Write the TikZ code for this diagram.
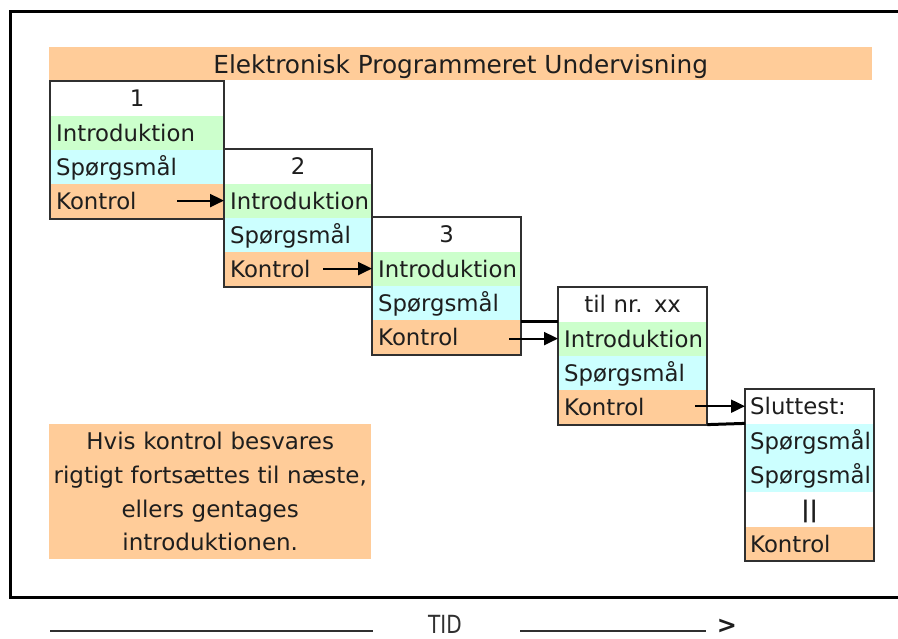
\documentclass[tikz,border=0pt]{standalone}
\usepackage{fontspec}
\setmainfont{DejaVu Sans}
\usetikzlibrary{arrows.meta}
\hyphenpenalty=10000
\exhyphenpenalty=10000
\definecolor{peach}{HTML}{FFCC99}
\definecolor{mint}{HTML}{CCFFCC}
\definecolor{sky}{HTML}{CCFFFF}
\definecolor{ink}{HTML}{1E1E1E}
\definecolor{edge}{HTML}{303030}
\begin{document}
\begin{tikzpicture}[x=1pt,y=-1pt,
  txt/.style={font=\fontsize{22.8}{26}\selectfont, text=ink},
  row/.style={txt, anchor=north west, inner xsep=6pt, inner ysep=0pt,
    minimum height=34pt, text height=19pt, text depth=2pt, align=left},
  head/.style={row, fill=white, align=center},
  intro/.style={row, fill=mint},
  ask/.style={row, fill=sky},
  check/.style={row, fill=peach},
  boxedge/.style={draw=edge, line width=2pt},
  link/.style={line width=3pt, black},
  arr/.style={line width=2pt, black, -{Triangle[length=14pt,width=13pt]}},
  timeline/.style={line width=2.2pt, edge}]
\useasboundingbox (0,0) rectangle (898,639);

% outer frame (open to the right)
\draw[line width=3pt] (898,12) -- (10,12) -- (10,597) -- (898,597);

% title bar
\node[txt, font=\fontsize{24.8}{28}\selectfont, fill=peach, anchor=north west,
  inner sep=0pt, minimum width=823pt, minimum height=33pt,
  text height=21pt, text depth=2pt] (title) at (49,47)
  {Elektronisk Programmeret Undervisning};

% module 1
\node[head,  text width=162pt] (b1t) at (50,81) {1};
\node[intro, text width=162pt] (b1i) at (b1t.south west) {Introduktion};
\node[ask,   text width=162pt] (b1s) at (b1i.south west) {Spørgsmål};
\node[check, text width=162pt] (b1k) at (b1s.south west) {Kontrol};
\draw[boxedge] (b1t.north west) rectangle (b1k.south east);

% module 2
\node[head,  text width=136pt] (b2t) at (224,149) {2};
\node[intro, text width=136pt] (b2i) at (b2t.south west) {Introduktion};
\node[ask,   text width=136pt] (b2s) at (b2i.south west) {Spørgsmål};
\node[check, text width=136pt] (b2k) at (b2s.south west) {Kontrol};
\draw[boxedge] (b2t.north west) rectangle (b2k.south east);

% module 3
\node[head,  text width=137pt] (b3t) at (372,217) {3};
\node[intro, text width=137pt] (b3i) at (b3t.south west) {Introduktion};
\node[ask,   text width=137pt] (b3s) at (b3i.south west) {Spørgsmål};
\node[check, text width=137pt] (b3k) at (b3s.south west) {Kontrol};
\draw[boxedge] (b3t.north west) rectangle (b3k.south east);

% module xx
\node[head,  text width=137pt] (b4t) at (558,287) {til nr. xx};
\node[intro, text width=137pt] (b4i) at (b4t.south west) {Introduktion};
\node[ask,   text width=137pt] (b4s) at (b4i.south west) {Spørgsmål};
\node[check, text width=137pt] (b4k) at (b4s.south west) {Kontrol};
\draw[boxedge] (b4t.north west) rectangle (b4k.south east);

% final test
\node[row, fill=white, inner xsep=5pt, text width=119pt] (b5t) at (745,389) {Sluttest:};
\node[ask,  inner xsep=5pt, text width=119pt] (b5a) at (b5t.south west) {Spørgsmål};
\node[ask,  inner xsep=5pt, text width=119pt] (b5b) at (b5a.south west) {Spørgsmål};
\node[head, inner xsep=5pt, text width=119pt] (b5d) at (b5b.south west) {\textbf{||}};
\node[check, inner xsep=5pt, text width=119pt] (b5k) at (b5d.south west) {Kontrol};
\draw[boxedge] (b5t.north west) rectangle (b5k.south east);

% joining bars
\draw[link] (b3k.east |- b4i.north west) -- (b4i.north west);
\draw[link] (b4k.south east) -- (b5a.north west);

% transitions
\draw[arr] ([xshift=-47pt]b2i.west) -- (b2i.west);
\draw[arr] ([xshift=-49pt]b3i.west) -- (b3i.west);
\draw[arr] ([xshift=-49pt]b4i.west) -- (b4i.west);
\draw[arr] ([xshift=-50pt]b5t.west) -- (b5t.west);

% note
\node[font=\fontsize{23}{33.7}\selectfont, text=ink, fill=peach,
  anchor=north west, inner sep=0pt, minimum width=322pt, minimum height=135pt,
  text width=318pt, align=center] (note) at (49,424)
  {Hvis kontrol besvares\\ rigtigt fortsættes til næste,\\ ellers gentages\\ introduktionen.};

% time axis
\node[font=\fontsize{25}{27}\selectfont, text=edge, inner sep=0pt, anchor=base]
  (tid) at (445,633) {\scalebox{0.8}[1]{TID}};
\coordinate (t0) at (50,631);
\coordinate (t1) at (373,631);
\coordinate (t2) at (520,631);
\coordinate (t3) at (706,631);
\draw[timeline] (t0) -- (t1);
\draw[timeline] (t2) -- (t3);
\node[font=\fontsize{24}{26}\bfseries\selectfont, text=ink, inner sep=0pt,
  anchor=base] (gt) at (727,633) {>};
\end{tikzpicture}
\end{document}
